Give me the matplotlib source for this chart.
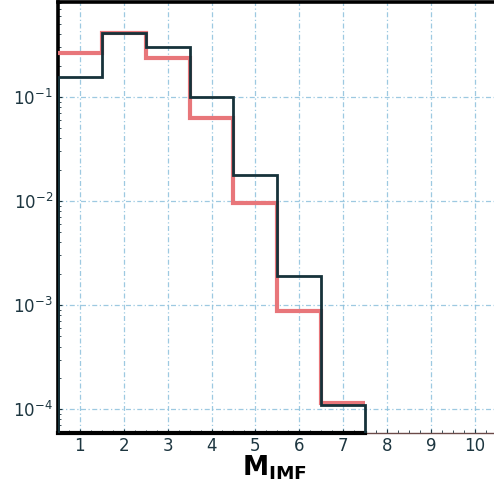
import matplotlib
matplotlib.use('Agg')
import matplotlib.pyplot as plt
from matplotlib.ticker import MultipleLocator, LogLocator, NullFormatter
import numpy as np

# bin edges of M_IMF
edges = np.arange(0.5, 8.5, 1.0)

# two histograms
red_vals = [0.265, 0.41, 0.237, 0.063, 0.0096, 0.00088, 0.000114]
black_vals = [0.155, 0.41, 0.30, 0.100, 0.018, 0.0019, 0.000109]

xticks = list(range(1, 11))

fig = plt.figure(figsize=(4.94, 4.86), dpi=100)
ax = fig.add_axes([0.117, 0.109, 0.889, 0.887])

txtcol = '#1d3640'
gridcol = '#8cc0dc'

ax.set_yscale('log')
ax.set_xlim(0.5, 10.5)
ax.set_ylim(5.9e-5, 0.82)

ax.stairs(red_vals, edges, baseline=None, color='#e8767a', lw=3.0, zorder=3)
ax.stairs(black_vals, edges, baseline=5.9e-5, color='#16323a', lw=2.0, zorder=4)

ax.set_xticks(xticks)
ax.xaxis.set_minor_locator(MultipleLocator(0.25))
ax.yaxis.set_major_locator(LogLocator(base=10, numticks=10))
ax.yaxis.set_minor_locator(LogLocator(base=10, subs=np.arange(2, 10), numticks=20))
ax.yaxis.set_minor_formatter(NullFormatter())

ax.grid(True, which='major', color=gridcol, lw=0.9, ls=(0, (4, 2, 1, 2)), alpha=0.85)
ax.tick_params(which='both', direction='in', colors=txtcol, labelsize=12)
ax.tick_params(which='major', length=3)
ax.tick_params(which='minor', length=2)
ax.tick_params(axis='x', pad=3)

for side in ['left', 'top']:
    ax.spines[side].set_color('black')
    ax.spines[side].set_linewidth(2.6)
ax.spines['right'].set_visible(False)
ax.spines['bottom'].set_color('black')
ax.spines['bottom'].set_linewidth(3.0)
ax.spines['bottom'].set_bounds(edges[0], edges[-1])
ax.plot([0, 1], [0, 0], transform=ax.transAxes, color='#6b4a48', lw=1.0, clip_on=False)

fig.text(0.555, 0.008, r'$\mathbf{M}_{\mathbf{IMF}}$', fontsize=19, color='black',
         ha='center', va='bottom')

fig.savefig('out.png', dpi=100)
